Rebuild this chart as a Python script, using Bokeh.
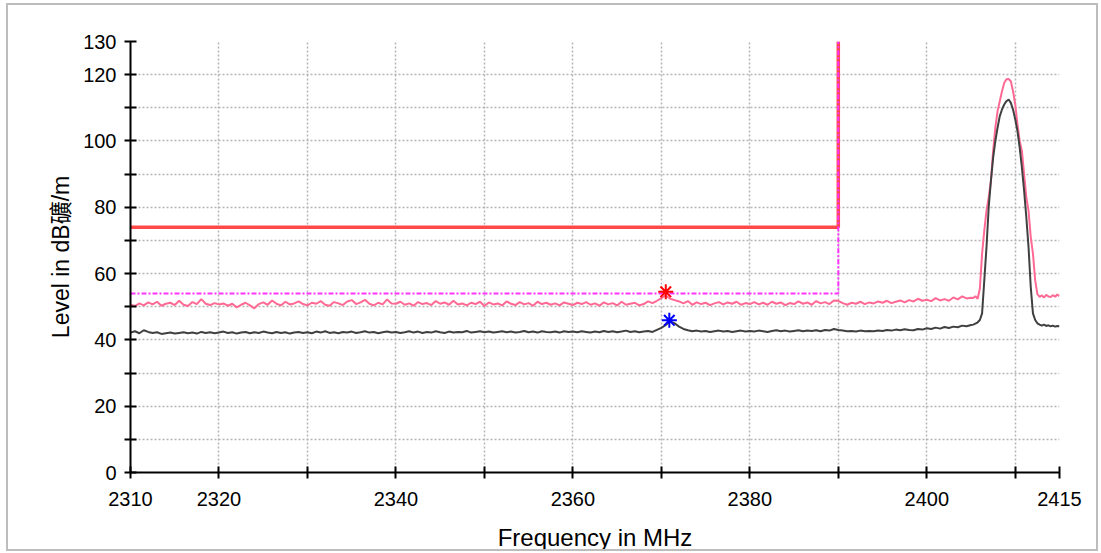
import numpy as np
from bokeh.plotting import figure
from bokeh.models import Range1d, FixedTicker
from bokeh.embed import file_html
from bokeh.resources import INLINE

# ---------------- data ----------------
# trace sampled every 0.5 MHz from 2310 to 2405, then every 0.25 MHz up to 2415
freq_base = np.arange(2310.0, 2405.01, 0.5)
freq_peak = np.arange(2405.25, 2415.01, 0.25)
freq = np.concatenate([freq_base, freq_peak])

peak_level_base = [
    50.6, 50.2, 51.0, 50.4, 51.3, 50.7, 51.5, 50.3, 50.9, 51.2, 50.5, 51.8, 50.6, 50.2, 51.4, 50.8, 52.3, 50.9, 50.5, 51.1,
    50.7, 51.0, 50.3, 50.9, 49.8, 50.6, 51.2, 50.4, 49.5, 50.8, 51.3, 50.6, 51.9, 50.9, 50.4, 51.5, 50.7, 51.0, 51.6, 50.8,
    50.4, 51.2, 50.9, 51.7, 50.6, 50.3, 51.4, 51.0, 50.5, 51.6, 52.0, 50.8, 51.3, 52.1, 50.9, 50.4, 51.2, 50.7, 52.2, 51.0,
    50.9, 51.5, 50.6, 51.0, 50.3, 51.4, 50.8, 51.1, 50.5, 51.7, 50.9, 51.3, 50.6, 51.8, 50.7, 51.0, 50.4, 51.2, 50.8, 51.5,
    50.2, 51.3, 50.7, 51.0, 50.4, 51.6, 50.9, 50.5, 51.4, 50.7, 51.1, 50.3, 51.5, 50.8, 51.2, 50.6, 51.0, 50.4, 51.3, 50.9,
    50.5, 51.2, 50.8, 51.4, 50.6, 51.0, 50.3, 51.3, 50.7, 51.1, 50.4, 51.5, 50.6, 50.9, 51.2, 50.4, 50.8, 51.6, 51.1, 51.8,
    52.6, 53.4, 52.4, 52.0, 51.6, 51.0, 51.7, 50.6, 51.3, 50.8, 51.2, 50.5, 51.0, 51.4, 50.7, 51.3, 50.9, 51.5, 50.6, 51.1,
    50.8, 51.4, 50.7, 51.2, 50.6, 51.5, 50.9, 51.3, 50.5, 51.1, 50.8, 51.6, 50.9, 51.3, 50.6, 51.7, 51.0, 51.4, 50.8, 51.9,
    51.8, 51.1, 50.6, 51.2, 50.9, 51.5, 50.8, 51.3, 51.0, 51.6, 51.2, 51.8, 51.1, 51.5, 51.9, 51.3, 52.0, 51.6, 52.4, 51.8,
    52.1, 51.7, 52.6, 51.9, 52.3, 51.8, 52.8, 52.2, 53.1, 52.5, 52.7,
]
peak_level_top = [
    52.6, 53.2, 52.4, 55.5, 66.0, 73.0, 79.0, 83.0, 88.0, 97.0,
    104.0, 109.0, 112.0, 115.0, 117.5, 118.6, 118.7, 118.0, 115.0, 111.0,
    105.0, 100.0, 97.0, 90.0, 83.0, 79.0, 71.0, 66.0, 58.0, 53.8,
    53.0, 53.4, 52.8, 53.6, 53.1, 52.9, 53.5, 53.0, 53.7, 53.2,
]
avg_level_base = [
    42.2, 42.6, 42.0, 42.9, 42.4, 42.1, 42.3, 41.8, 42.0, 42.2, 41.9, 42.1, 42.3, 42.0, 42.2, 41.9, 42.4, 42.1, 42.3, 42.0,
    42.2, 42.5, 42.1, 42.3, 41.9, 42.2, 42.4, 42.0, 42.3, 42.1, 42.5, 42.2, 42.0, 42.4, 42.1, 42.3, 41.9, 42.2, 42.4, 42.1,
    42.3, 42.0, 42.5, 42.2, 42.6, 42.1, 42.3, 42.0, 42.4, 42.2, 42.5, 42.1, 42.3, 42.6, 42.2, 42.4, 42.0, 42.3, 42.5, 42.2,
    42.4, 42.1, 42.3, 42.6, 42.2, 42.5, 42.1, 42.4, 42.2, 42.6, 42.3, 42.1, 42.5, 42.2, 42.4, 42.3, 42.7, 42.2, 42.4, 42.6,
    42.3, 42.5, 42.2, 42.4, 42.6, 42.3, 42.5, 42.2, 42.4, 42.7, 42.3, 42.5, 42.2, 42.6, 42.4, 42.3, 42.5, 42.2, 42.6, 42.4,
    42.5, 42.3, 42.6, 42.4, 42.2, 42.5, 42.3, 42.7, 42.4, 42.6, 42.3, 42.5, 42.8, 42.4, 42.6, 42.3, 42.5, 42.7, 42.4, 43.0,
    43.6, 44.5, 45.6, 45.0, 44.0, 43.3, 42.9, 42.6, 42.8, 42.5, 42.7, 42.4, 42.6, 42.8, 42.5, 42.7, 42.4, 42.6, 42.8, 42.5,
    42.7, 42.5, 42.8, 42.6, 42.4, 42.7, 42.9, 42.6, 42.8, 42.5, 42.7, 42.9, 42.6, 42.8, 42.7, 42.9, 42.6, 43.0, 42.8, 43.3,
    43.0, 42.8, 42.6, 42.7, 42.5, 42.8, 42.6, 42.7, 42.6, 42.8, 42.7, 43.0, 42.8, 43.1, 42.9, 43.2, 43.0, 42.9, 43.3, 43.1,
    43.5, 43.3, 43.7, 43.4, 43.9, 43.6, 44.0, 43.8, 44.3, 44.1, 44.5,
]
avg_level_top = [
    44.6, 44.9, 45.3, 46.0, 48.0, 58.0, 68.0, 80.0, 88.0, 95.0,
    100.0, 104.0, 107.5, 109.5, 111.0, 112.0, 112.5, 111.5, 109.5, 106.5,
    103.0, 98.0, 92.0, 85.0, 77.0, 68.0, 56.0, 48.0, 46.0, 45.0,
    44.6, 44.3, 44.6, 44.2, 44.4, 44.1, 44.3, 44.0, 44.2, 44.1,
]
peak_level = peak_level_base + peak_level_top
avg_level = avg_level_base + avg_level_top

limit_pk_freq = [2310, 2390, 2390]
limit_pk_level = [74, 74, 130]
limit_av_freq = [2310, 2390, 2390]
limit_av_level = [54, 54, 130]

marker_pk_freq = [2370.5]
marker_pk_level = [54.5]
marker_av_freq = [2370.9]
marker_av_level = [45.9]

y_ticks = list(range(0, 131, 10))
y_labels = {0: "0", 20: "20", 40: "40", 60: "60", 80: "80", 100: "100", 120: "120", 130: "130"}
x_ticks = [2310, 2320, 2330, 2340, 2350, 2360, 2370, 2380, 2390, 2400, 2410, 2415]
x_labels = {2310: "2310", 2320: "2320", 2340: "2340", 2360: "2360", 2380: "2380", 2400: "2400", 2415: "2415"}

# ---------------- figure ----------------
p = figure(width=1092, height=548, output_backend="svg", toolbar_location=None,
           x_range=Range1d(2310, 2415), y_range=Range1d(0, 130),
           min_border_left=122, min_border_right=41, min_border_top=36, min_border_bottom=77)
p.outline_line_color = None
p.background_fill_color = "white"
p.border_fill_color = "white"
p.styles = {"border": "2px solid #bdbdbd", "box-sizing": "border-box",
            "margin-left": "6px", "margin-top": "3px"}

tick_font = "Liberation Sans, Arial, sans-serif"

for ax, ticks, labels in ((p.xaxis[0], x_ticks, x_labels), (p.yaxis[0], y_ticks, y_labels)):
    ax.ticker = FixedTicker(ticks=ticks)
    ax.major_label_overrides = {t: labels.get(t, "") for t in ticks}
    ax.axis_line_color = "black"
    ax.axis_line_width = 2
    ax.major_tick_line_color = "black"
    ax.major_tick_line_width = 2
    ax.major_tick_in = 6
    ax.major_tick_out = 6
    ax.minor_tick_line_color = None
    ax.major_label_text_font = tick_font
    ax.major_label_text_font_size = "20px"
    ax.major_label_text_color = "black"
    ax.axis_label_text_font = "Liberation Sans, Noto Sans CJK SC, sans-serif"
    ax.axis_label_text_font_style = "normal"
    ax.axis_label_text_color = "black"

p.xaxis.axis_label = "Frequency in MHz"
p.xaxis.axis_label_text_font_size = "24px"
p.xaxis.major_label_standoff = 13
p.xaxis.axis_label_standoff = 15
p.yaxis.axis_label = "Level in dB礦/m"
p.yaxis.axis_label_text_font_size = "23px"
p.yaxis.major_label_standoff = 8
p.yaxis.axis_label_standoff = 6

for g in (p.xgrid[0], p.ygrid[0]):
    g.grid_line_color = "#b4b4b4"
    g.grid_line_dash = "2 2"
    g.grid_line_width = 1.5
p.xgrid.ticker = FixedTicker(ticks=x_ticks)
p.ygrid.ticker = FixedTicker(ticks=y_ticks)

# traces
p.line(freq, peak_level, line_color="#ff6a94", line_width=2)
p.line(freq, avg_level, line_color="#404040", line_width=2)

# limit lines
p.line(limit_pk_freq, limit_pk_level, line_color="#ff4848", line_width=3.5)
p.line(limit_av_freq, limit_av_level, line_color="#ff33ff", line_width=2, line_dash="5 2 2 2")

# markers
p.scatter(marker_pk_freq, marker_pk_level, marker="asterisk", size=15, line_color="#ff0000", line_width=2)
p.scatter(marker_av_freq, marker_av_level, marker="asterisk", size=15, line_color="#0000ff", line_width=2)

open("out.html", "w").write(file_html(p, INLINE))
